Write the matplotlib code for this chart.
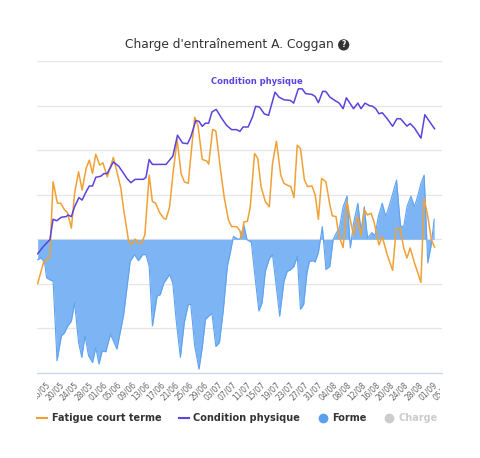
import matplotlib
matplotlib.use("Agg")
import matplotlib.pyplot as plt
from matplotlib.lines import Line2D
from matplotlib.transforms import Bbox, TransformedBbox, ScaledTranslation

# days counted from 15/05
tick_days = [1, 5, 9, 13, 17, 21, 25, 29, 33, 37, 41, 45, 49, 53, 57,
             61, 65, 69, 73, 77, 81, 85, 89, 93, 97, 101, 105, 109, 113]
tick_labels = ["16/05", "20/05", "24/05", "28/05", "01/06", "05/06", "09/06",
               "13/06", "17/06", "21/06", "25/06", "29/06", "03/07", "07/07",
               "11/07", "15/07", "19/07", "23/07", "27/07", "31/07", "04/08",
               "08/08", "12/08", "16/08", "20/08", "24/08", "28/08", "01/09",
               "05/09"]

cond_day = [0.2, 1.8, 3.6, 4.5, 5.5, 6.8, 8.2, 8.6, 9.6, 10.5, 11.7, 12.6,
            13.7, 14.6, 15.5, 16.4, 17.8, 18.7, 19.6, 21.3, 22.8, 24.2, 25.1,
            26.2, 27.4, 29.7, 30.4, 31.3, 32.2, 36.0, 37.9, 39.2, 40.6, 42.0,
            42.9, 44.3, 45.2, 46.1, 47.0, 47.9, 48.8, 50.0, 51.6, 52.9, 54.3,
            55.7, 56.6, 57.5, 58.9, 60.1, 61.0, 62.1, 63.4, 64.6, 66.4, 67.5,
            68.9, 70.7, 71.6, 72.9, 74.0, 74.9, 76.7, 77.6, 78.5, 79.7, 80.6,
            81.7, 83.1, 84.3, 85.4, 86.3, 87.4, 88.3, 89.5, 90.4, 91.5, 92.7,
            93.6, 94.5, 95.4, 96.3, 97.7, 99.2, 100.4, 101.4, 103.2, 104.1,
            105.3, 107.1, 108.2, 109.6, 110.9]
cond_val = [-6.5, -3.2, -0.2, 9.0, 8.3, 9.9, 10.2, 10.9, 10.2, 14.6, 18.7,
            17.6, 21.3, 23.9, 23.9, 27.8, 28.3, 29.5, 29.5, 34.7, 32.8, 29.5,
            27.3, 25.4, 26.9, 26.9, 27.8, 35.8, 33.6, 33.6, 37.3, 46.7, 43.2,
            42.9, 45.9, 53.3, 52.9, 50.7, 52.1, 52.1, 57.1, 58.3, 54.1, 51.1,
            49.2, 49.2, 48.4, 50.4, 50.4, 54.8, 59.7, 59.3, 56.3, 55.6, 66.0,
            63.8, 62.6, 62.3, 61.1, 67.5, 67.5, 65.4, 65.0, 64.1, 61.3, 66.4,
            66.3, 63.8, 62.3, 61.1, 58.6, 63.5, 60.8, 58.6, 61.1, 58.6, 61.1,
            60.0, 59.7, 58.6, 56.3, 56.8, 54.1, 50.7, 54.1, 54.1, 50.8, 51.9,
            49.9, 45.4, 55.9, 52.6, 49.6]

fat_day = [0.2, 1.8, 2.7, 3.6, 4.5, 5.7, 6.6, 7.7, 8.5, 9.6, 10.5, 11.6, 12.6,
           13.7, 14.6, 15.5, 16.4, 17.5, 18.4, 19.6, 21.3, 22.2, 23.4, 24.2,
           25.5, 26.2, 27.4, 28.3, 29.2, 30.1, 31.3, 32.2, 33.1, 34.2, 35.3,
           36.0, 37.0, 37.9, 39.1, 40.2, 41.1, 42.2, 42.9, 44.0, 44.9, 46.1,
           47.3, 47.9, 49.0, 49.9, 51.1, 52.2, 53.4, 54.3, 55.7, 56.6, 57.1,
           57.7, 58.7, 59.5, 60.7, 61.6, 62.5, 63.7, 64.8, 65.7, 66.8, 68.0,
           68.9, 69.8, 70.8, 71.7, 72.6, 73.5, 74.6, 75.5, 76.7, 77.6, 78.5,
           79.4, 80.6, 81.7, 82.4, 83.4, 84.3, 85.4, 86.5, 87.4, 88.3, 89.5,
           90.4, 91.3, 92.2, 93.2, 94.0, 95.4, 96.3, 97.7, 99.2, 100.2, 101.3,
           102.3, 103.2, 104.1, 105.3, 107.1, 108.0, 109.1, 110.0, 110.9]
fat_val = [-19.9, -10.6, -9.2, -7.7, 25.8, 16.2, 16.2, 13.2, 12.0, 5.0, 20.6,
           30.3, 22.1, 31.8, 35.5, 29.5, 38.2, 33.3, 34.3, 28.0, 36.7, 31.0,
           22.9, 13.2, -0.2, -2.5, 0.1, -2.0, -1.7, 2.0, 28.8, 16.9, 16.2,
           12.0, 9.5, 9.0, 14.6, 28.8, 44.7, 29.5, 25.8, 25.1, 37.0, 54.8,
           51.1, 35.8, 35.2, 33.7, 49.3, 48.6, 32.5, 19.1, 8.7, 5.7, 5.7, 3.9,
           0.5, 7.7, 8.1, 14.6, 38.5, 36.2, 23.6, 16.9, 14.6, 34.0, 44.0,
           28.8, 25.1, 24.3, 23.6, 18.7, 42.2, 40.7, 26.6, 23.6, 24.0, 19.9,
           9.0, 27.3, 25.8, 15.4, 10.5, 10.2, 1.2, -3.7, 16.9, 8.7, 2.0, 10.2,
           1.6, 13.2, 10.9, 11.7, 7.9, -2.5, 1.2, -6.9, -13.9, 4.6, 5.0, -3.9,
           -8.4, -3.9, -10.6, -19.3, 18.4, 9.5, -0.2, -3.5]

forme_day = [0.2, 1.1, 2.1, 2.7, 3.9, 4.5, 5.6, 6.8, 7.7, 8.6, 9.6, 10.5, 11.6,
             12.5, 13.4, 14.4, 15.5, 16.4, 17.3, 18.2, 19.2, 20.5, 22.3, 24.2,
             26.0, 27.2, 28.3, 29.5, 30.4, 31.3, 32.2, 33.5, 34.4, 35.4, 37.0,
             37.9, 38.8, 40.0, 41.1, 42.2, 42.9, 44.0, 45.2, 46.1, 47.0, 47.9,
             48.8, 49.9, 50.9, 52.0, 53.1, 54.0, 54.8, 55.9, 56.6, 57.7, 58.6,
             59.8, 60.7, 61.9, 62.8, 63.7, 64.8, 65.7, 66.8, 67.7, 68.9, 69.8,
             70.8, 71.7, 72.6, 73.5, 74.4, 75.3, 76.0, 77.0, 77.6, 78.5, 79.6,
             80.6, 81.7, 82.6, 83.5, 84.4, 85.4, 86.5, 87.4, 88.3, 89.5, 90.4,
             91.3, 92.2, 93.4, 94.3, 95.2, 96.3, 97.3, 98.4, 100.3, 101.4,
             102.3, 103.2, 104.3, 105.3, 106.2, 107.1, 108.0, 109.0, 109.9,
             110.8]
forme_val = [-9.2, -8.3, -10.3, -17.3, -18.4, -18.8, -54.5, -43.4, -41.9,
             -38.9, -36.7, -28.5, -46.3, -53.0, -43.4, -52.3, -55.3, -48.6,
             -56.0, -50.1, -50.5, -42.6, -49.3, -33.7, -9.9, -6.9, -9.6, -6.9,
             -6.9, -12.1, -38.9, -25.5, -24.8, -19.6, -15.8, -19.9, -35.9,
             -53.0, -37.4, -29.2, -29.2, -47.9, -58.3, -48.6, -35.9, -34.5,
             -33.3, -48.1, -46.3, -31.5, -12.1, -5.4, 1.3, 0.2, 0.0, 6.5, -0.2,
             -1.4, -15.1, -32.2, -28.5, -14.4, -8.8, -6.9, -21.8, -34.5, -18.8,
             -14.4, -13.6, -12.1, -7.7, -31.4, -29.2, -15.1, -9.9, -9.6, -10.2,
             -5.9, 5.7, -13.6, -12.1, -0.2, 2.8, 5.4, 14.6, 19.4, -3.9, 7.2,
             16.2, 3.5, 14.6, 0.5, 3.0, 1.6, 10.2, 16.2, 10.2, 15.8, 26.6, 6.0,
             5.7, 14.6, 19.4, 14.6, 19.4, 25.1, 28.8, -10.6, -3.2, 9.0]

orange = "#f0a136"
purple = "#5a43e0"
blue_fill = "#7db5f4"
blue_line = "#5fa2f0"

fig = plt.figure(figsize=(4.8, 4.58), dpi=100)
ax = fig.add_axes([0.077, 0.1856, 0.844, 0.6812])

ax.fill_between(forme_day, 0, forme_val, color=blue_fill, lw=0, zorder=2)
ax.plot(forme_day, forme_val, color=blue_line, lw=0.8, zorder=2)
ax.plot(fat_day, fat_val, color=orange, lw=1.1, zorder=3)
ax.plot(cond_day, cond_val, color=purple, lw=1.1, zorder=4)

ax.text(61.4, 70.8, "Condition physique", color=purple, fontsize=6,
        fontweight="bold", ha="center", va="center")

ax.set_xlim(0, 111)
ax.set_ylim(-60, 80)
ax.set_yticks([-40, -20, 0, 20, 40, 60, 80])
ax.set_yticklabels([])
ax.grid(axis="y", color="#e6e6e6", lw=0.9, zorder=0)
ax.tick_params(axis="y", length=0)
for s in ["top", "right", "left"]:
    ax.spines[s].set_visible(False)
ax.spines["bottom"].set_color("#ccd6eb")
ax.spines["bottom"].set_linewidth(0.9)

ax.set_xticks(tick_days)
ax.set_xticklabels(tick_labels, rotation=45, ha="right",
                   rotation_mode="anchor", fontsize=5.5, color="#666666")
ax.tick_params(axis="x", length=0, pad=5)
# highcharts clips the labels to the plot width, and sets them a bit right
clip = TransformedBbox(Bbox([[0.077, 0.0], [0.917, 1.0]]), fig.transFigure)
shift = ScaledTranslation(5 / 100, 0, fig.dpi_scale_trans)
for lab in ax.get_xticklabels():
    lab.set_transform(lab.get_transform() + shift)
    lab.set_clip_on(True)
    lab.set_clip_box(clip)

fig.text(0.477, 0.902, "Charge d'entraînement A. Coggan", fontsize=8.8,
         ha="center", va="center", color="#333333")
fig.text(0.716, 0.902, "?", fontsize=5.5, fontweight="bold", color="white",
         ha="center", va="center",
         bbox=dict(boxstyle="circle,pad=0.15", fc="#333333", ec="none"))

handles = [Line2D([], [], color=orange, lw=1.5),
           Line2D([], [], color=purple, lw=1.5),
           Line2D([], [], color="#5aa0ee", marker="o", ms=6, ls="none"),
           Line2D([], [], color="#cccccc", marker="o", ms=6, ls="none")]
names = ["Fatigue court terme", "Condition physique", "Forme", "Charge"]
leg = fig.legend(handles, names, loc="center", bbox_to_anchor=(0.495, 0.087),
                 ncol=4, frameon=False, handlelength=1.0, handletextpad=0.5,
                 columnspacing=1.8, prop={"size": 7, "weight": "bold"})
for t, c in zip(leg.get_texts(), ["#333333", "#333333", "#333333", "#cccccc"]):
    t.set_color(c)

fig.savefig("out.png", dpi=100)
